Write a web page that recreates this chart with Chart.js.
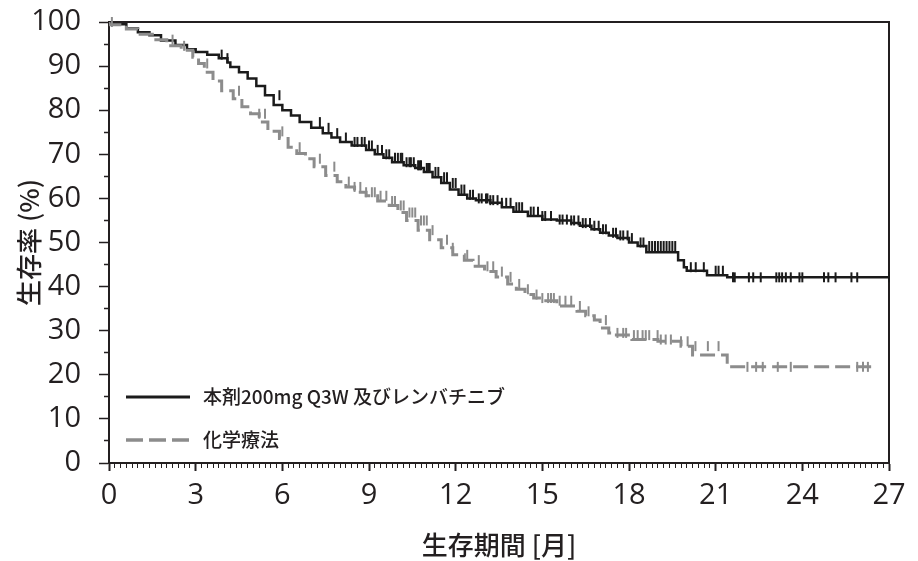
<!DOCTYPE html>
<html lang="ja">
<head>
<meta charset="utf-8">
<title>生存率</title>
<script src="https://cdn.jsdelivr.net/npm/chart.js@4.4.1/dist/chart.umd.min.js"></script>
<style>
  html, body { margin: 0; padding: 0; background: #fff; }
  #wrap { width: 918px; height: 561px; }
</style>
</head>
<body>
<div id="wrap"><canvas id="kmChart" width="918" height="561"></canvas></div>
<script>
// Series names
const seriesLabels = ['本剤200mg Q3W 及びレンバチニブ', '化学療法'];

// 本剤 + レンバチニブ: step times (months) and survival (%)
const comboTimes = [0, 0.6, 1.0, 1.4, 1.8, 2.3, 2.7, 3.0, 3.4, 3.8, 4.1, 4.2, 4.5, 4.8, 5.1, 5.4, 5.7, 6.0,
  6.3, 6.6, 7.0, 7.4, 7.7, 8.0, 8.4, 8.9, 9.2, 9.5, 9.8, 10.2, 10.6, 10.9, 11.2, 11.5, 11.8, 12.1,
  12.4, 12.7, 13.2, 13.6, 14.0, 14.5, 15.0, 15.5, 16.0, 16.3, 16.7, 17.0, 17.3, 17.6, 18.0, 18.3,
  18.6, 19.7, 19.9, 20.0, 20.7, 21.4, 21.6, 27.0];
const comboSurv = [100, 99.5, 98.5, 97.7, 97.0, 95.8, 94.8, 93.8, 93.2, 92.6, 91.8, 90.8, 89.8, 88.6, 87.2, 85.5, 83.4, 81.2,
  80.0, 78.8, 77.3, 76.0, 74.8, 73.8, 72.8, 72.0, 71.0, 70.0, 69.2, 68.2, 67.5, 66.9, 66.0, 64.8, 63.5, 62.0,
  60.8, 60.0, 59.6, 59.0, 58.0, 57.0, 56.0, 55.2, 55.0, 54.4, 53.8, 53.0, 52.2, 51.6, 51.0, 50.0,
  49.2, 47.8, 46.0, 44.4, 43.6, 42.6, 42.1, 42.1];
const comboCensor = [3.9, 4.1, 5.9, 7.3, 7.6, 7.9, 8.2, 8.5, 8.6, 8.75, 8.85, 9.0, 9.1, 9.3, 9.45, 9.6, 9.7, 9.9,
  10.0, 10.1, 10.15, 10.3, 10.4, 10.45, 10.55, 10.7, 10.75, 10.8, 11.0, 11.05, 11.1, 11.3, 11.4, 11.6, 11.7,
  11.9, 12.0, 12.2, 12.3, 12.5, 12.6, 12.8, 12.9, 13.05, 13.1, 13.2, 13.3, 13.45, 13.6, 13.75, 13.9, 14.1,
  14.2, 14.3, 14.6, 14.7, 14.85, 15.0, 15.1, 15.3, 15.6, 15.7, 15.85, 16.0, 16.1, 16.25, 16.4, 16.5,
  16.65, 16.8, 16.95, 17.1, 17.2, 17.45, 17.55, 17.7, 17.8, 17.95, 18.1, 18.4, 18.5, 18.7, 18.8, 18.9,
  19.0, 19.1, 19.2, 19.3, 19.4, 19.5, 19.6, 20.14, 20.31, 20.59, 21.0, 21.1, 21.25, 21.6, 21.66, 22.15,
  22.3, 22.56, 23.1, 23.2, 23.3, 23.43, 23.6, 23.9, 24.0, 24.75, 24.9, 25.15, 25.7, 25.9, 27.0];

// 化学療法: step times (months) and survival (%)
const chemoTimes = [0, 0.6, 1.0, 1.5, 2.0, 2.5, 2.9, 3.1, 3.3, 3.6, 3.9, 4.3, 4.6, 4.9, 5.2, 5.5, 5.9, 6.2,
  6.5, 6.8, 7.1, 7.5, 7.9, 8.2, 8.5, 8.9, 9.3, 9.7, 10.0, 10.3, 10.7, 11.1, 11.5, 11.9, 12.3, 12.6,
  13.0, 13.4, 13.8, 14.1, 14.4, 14.7, 15.0, 15.5, 16.2, 16.5, 16.8, 17.0, 17.3, 17.5, 18.1, 19.0,
  19.8, 20.2, 21.4, 21.9, 26.4];
const chemoSurv = [100, 99.4, 98.4, 97.2, 96.0, 94.6, 93.6, 92.0, 90.6, 88.6, 86.6, 84.4, 82.6, 80.8, 79.2, 77.3, 75.2, 73.6,
  71.6, 70.2, 69.0, 67.2, 65.2, 63.8, 62.6, 61.4, 60.6, 59.4, 58.4, 56.8, 55.0, 52.8, 50.6, 48.8, 47.2, 46.0,
  44.6, 43.4, 42.2, 40.6, 39.4, 38.2, 37.4, 36.8, 35.6, 34.4, 33.4, 32.4, 30.6, 29.5, 29.0, 28.0,
  27.6, 26.5, 24.5, 21.8, 21.8];
const chemoCensor = [0.1, 2.2, 2.6, 3.4, 4.5, 5.2, 5.4, 6.0, 6.6, 7.3, 7.8, 8.3, 8.5, 8.7, 8.9, 9.1, 9.2, 9.4,
  9.6, 9.8, 9.9, 10.1, 10.2, 10.4, 10.5, 10.6, 10.8, 10.9, 11.0, 11.2, 11.7, 11.9, 12.4, 12.8, 13.1,
  13.3, 13.6, 13.9, 14.2, 14.5, 14.8, 15.0, 15.2, 15.3, 15.4, 15.6, 15.8, 16.0, 16.3, 16.6, 17.2,
  17.6, 17.8, 17.9, 18.17, 18.3, 18.47, 18.58, 18.7, 18.99, 19.1, 19.27, 19.45, 19.8, 20.03, 20.3,
  20.73, 21.1, 22.1, 22.4, 22.63, 23.15, 23.6, 25.9, 26.1, 26.27];

// Axis ticks
const xMajorTicks = [0, 3, 6, 9, 12, 15, 18, 21, 24, 27];
const xTickLabels = ['0', '3', '6', '9', '12', '15', '18', '21', '24', '27'];
const xMinorStep = 0.2;
const yMajorTicks = [0, 10, 20, 30, 40, 50, 60, 70, 80, 90, 100];
const yTickLabels = ['0', '10', '20', '30', '40', '50', '60', '70', '80', '90', '100'];

const comboColor = '#1b1b1b';
const chemoColor = '#8c8c8c';
const textColor = '#231f20';

// censored subjects sit on the curve at their time
function survivalAt(times, surv, t) {
    let s = surv[0];
    for (let i = 0; i < times.length; i++) {
        if (times[i] <= t + 1e-9) s = surv[i];
    }
    return s;
}

function stepPoints(times, surv) {
    return times.map((t, i) => ({ x: t, y: surv[i] }));
}

function censorPoints(censor, times, surv) {
    return censor.map(t => ({ x: t, y: survivalAt(times, surv, t) }));
}

function isMajor(value, majors) {
    return majors.findIndex(m => Math.abs(m - value) < 1e-6);
}

// Box around the plot (top and right edges)
const framePlugin = {
    id: 'frame',
    beforeDatasetsDraw(chart) {
        const { ctx, chartArea: a } = chart;
        ctx.save();
        ctx.strokeStyle = textColor;
        ctx.lineWidth = 2;
        ctx.beginPath();
        ctx.moveTo(a.left, a.top);
        ctx.lineTo(a.right, a.top);
        ctx.lineTo(a.right, a.bottom);
        ctx.stroke();
        ctx.restore();
    }
};

// Legend inside the plot, lower left
const insideLegend = {
    id: 'insideLegend',
    afterDraw(chart) {
        const { ctx, chartArea: a } = chart;
        const rows = [
            { label: seriesLabels[0], color: comboColor, dash: [], width: 3, y: a.bottom - 66 },
            { label: seriesLabels[1], color: chemoColor, dash: [17, 6], width: 3.5, y: a.bottom - 23 }
        ];
        ctx.save();
        rows.forEach(r => {
            ctx.strokeStyle = r.color;
            ctx.lineWidth = r.width;
            ctx.setLineDash(r.dash);
            ctx.beginPath();
            ctx.moveTo(a.left + 17, r.y);
            ctx.lineTo(a.left + 81, r.y);
            ctx.stroke();
            ctx.setLineDash([]);
            ctx.fillStyle = textColor;
            ctx.font = "500 19px 'Noto Sans CJK JP', sans-serif";
            ctx.textBaseline = 'middle';
            ctx.fillText(r.label, a.left + 94, r.y);
        });
        ctx.restore();
    }
};

const ctx = document.getElementById('kmChart').getContext('2d');
const kmChart = new Chart(ctx, {
    type: 'line',
    data: {
        datasets: [
            {
                label: seriesLabels[1],
                data: stepPoints(chemoTimes, chemoSurv),
                stepped: 'after',
                borderColor: chemoColor,
                borderWidth: 3,
                borderDash: [15, 6],
                pointRadius: 0,
                fill: false
            },
            {
                label: seriesLabels[1] + ' 打ち切り',
                data: censorPoints(chemoCensor, chemoTimes, chemoSurv),
                showLine: false,
                pointStyle: 'line',
                rotation: 90,
                radius: 5,
                borderColor: chemoColor,
                borderWidth: 2,
                clip: 8
            },
            {
                label: seriesLabels[0],
                data: stepPoints(comboTimes, comboSurv),
                stepped: 'after',
                borderColor: comboColor,
                borderWidth: 2.5,
                pointRadius: 0,
                fill: false
            },
            {
                label: seriesLabels[0] + ' 打ち切り',
                data: censorPoints(comboCensor, comboTimes, comboSurv),
                showLine: false,
                pointStyle: 'line',
                rotation: 90,
                radius: 5,
                borderColor: comboColor,
                borderWidth: 2,
                clip: 8
            }
        ]
    },
    options: {
        responsive: false,
        devicePixelRatio: 1,
        animation: false,
        layout: {
            padding: { left: 0, top: 22, right: 29, bottom: 0 }
        },
        plugins: {
            legend: { display: false },
            tooltip: { enabled: false }
        },
        scales: {
            x: {
                type: 'linear',
                min: 0,
                max: 27,
                afterBuildTicks: function(scale) {
                    const ticks = [];
                    const n = Math.round(27 / xMinorStep);
                    for (let i = 0; i <= n; i++) {
                        ticks.push({ value: Math.round(i * xMinorStep * 10) / 10 });
                    }
                    scale.ticks = ticks;
                },
                afterFit: function(scale) {
                    scale.height = 98;
                    scale.paddingLeft = 0;
                    scale.paddingRight = 0;
                },
                border: { display: true, color: textColor, width: 2 },
                grid: {
                    drawOnChartArea: false,
                    tickLength: 8,
                    tickColor: textColor,
                    tickWidth: function(c) {
                        return isMajor(c.tick.value, xMajorTicks) >= 0 ? 2 : 1;
                    },
                    tickBorderDash: function(c) {
                        return isMajor(c.tick.value, xMajorTicks) >= 0 ? [] : [4, 100];
                    }
                },
                ticks: {
                    autoSkip: false,
                    maxRotation: 0,
                    padding: 7,
                    color: textColor,
                    font: { family: "'Open Sans', 'Noto Sans', sans-serif", size: 29 },
                    callback: function(value) {
                        const i = isMajor(value, xMajorTicks);
                        return i >= 0 ? xTickLabels[i] : '';
                    }
                },
                title: {
                    display: true,
                    text: '生存期間 [月]',
                    color: textColor,
                    font: { family: "'Noto Sans CJK JP', sans-serif", size: 26, weight: '500' },
                    padding: { top: 0, bottom: 0 }
                }
            },
            y: {
                min: 0,
                max: 100,
                afterFit: function(scale) {
                    scale.width = 109;
                    scale.paddingTop = 0;
                    scale.paddingBottom = 0;
                },
                border: { display: true, color: textColor, width: 2 },
                grid: {
                    drawOnChartArea: false,
                    tickLength: 10,
                    tickColor: textColor,
                    tickWidth: 1.5,
                    tickBorderDash: function(c) {
                        return isMajor(c.tick.value, yMajorTicks) >= 0 ? [] : [0, 5, 5, 100];
                    }
                },
                ticks: {
                    stepSize: 5,
                    autoSkip: false,
                    padding: 18,
                    color: textColor,
                    font: { family: "'Open Sans', 'Noto Sans', sans-serif", size: 29 },
                    callback: function(value) {
                        const i = isMajor(value, yMajorTicks);
                        return i >= 0 ? yTickLabels[i] : '';
                    }
                },
                title: {
                    display: true,
                    text: '生存率 (%)',
                    color: textColor,
                    font: { family: "'Noto Sans CJK JP', sans-serif", size: 26, weight: '500' },
                    padding: { top: 14, bottom: 0 }
                }
            }
        }
    },
    plugins: [framePlugin, insideLegend]
});
</script>
</body>
</html>
